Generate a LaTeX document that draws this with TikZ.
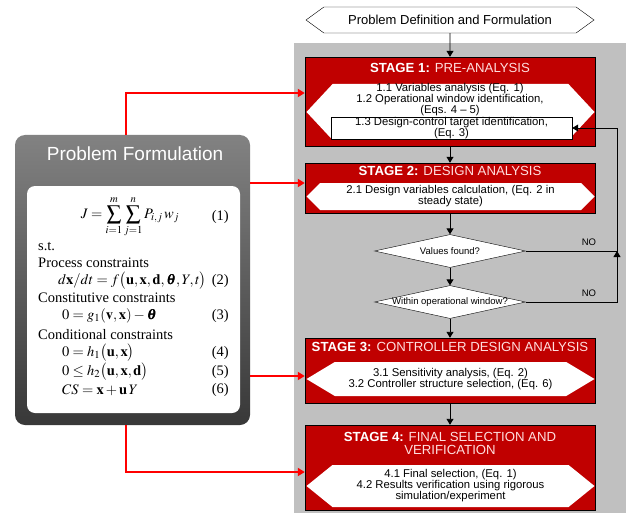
\documentclass[tikz,border=0pt]{standalone}
\usepackage{amsmath}
\usepackage{mathptmx}
\usepackage{bm}
\usepackage[no-math]{fontspec}
\setmainfont{Liberation Sans}
\newfontfamily\eqfont{Liberation Serif}
\usetikzlibrary{positioning,shapes.geometric,shapes.symbols,arrows.meta}

\definecolor{stagered}{RGB}{192,0,0}
\definecolor{panelgray}{RGB}{192,192,192}
\definecolor{pftop}{RGB}{130,130,130}
\definecolor{pfbot}{RGB}{56,56,56}
\definecolor{titlepink}{RGB}{255,222,222}

\tikzset{
  stage/.style={draw=black, fill=stagered, minimum width=290pt, inner sep=0pt},
  stagetitle/.style={text=titlepink, font=\fontsize{13.2}{13}\selectfont, align=center, inner sep=0pt},
  hexa/.style={signal, signal to=west and east, fill=white, minimum width=288pt, inner sep=0pt,
    font=\fontsize{11.3}{11}\selectfont, align=center},
  steptext/.style={font=\fontsize{11.3}{11}\selectfont, align=center, inner sep=0pt},
  decision/.style={diamond, draw, fill=white, aspect=4.6, inner sep=0pt,
    minimum width=151pt, minimum height=33pt, font=\fontsize{9.5}{10}\selectfont},
  flow/.style={line width=0.9pt, -{Triangle[length=6pt,width=7pt]}},
  feed/.style={red, line width=2.5pt, -{Triangle[length=7pt,width=8pt]}},
  eqline/.style={anchor=west, inner sep=0pt, font=\eqfont\fontsize{14.5}{16}\selectfont},
  eqnum/.style={anchor=east, inner sep=0pt, font=\eqfont\fontsize{14.5}{16}\selectfont}
}

\begin{document}
\begin{tikzpicture}[x=1pt,y=-1pt]
\useasboundingbox (0,0) rectangle (628,513);
\fill[panelgray] (294,43) rectangle (626,513);

\node[hexa, draw, minimum height=26pt, signal pointer angle=72, font=\fontsize{13}{13}\selectfont] (pd) at (450,20) {Problem Definition and Formulation};

% stage 1
\node[stage, minimum height=89pt] (s1) at (450,101.5) {};
\node[stagetitle] (t1) at (450,68) {\textcolor{white}{\textbf{STAGE 1:}} PRE-ANALYSIS};
\node[hexa, minimum height=56pt, signal pointer angle=94] (h1) at (450.5,112) {};
\node[steptext] (x1) at (450,100) {1.1 Variables analysis (Eq. 1)\\1.2 Operational window identification,\\(Eqs. 4 -- 5)};
\node[steptext, draw, fill=white, minimum width=241pt, minimum height=20pt] (b13) at (451.5,128) {1.3 Design-control target identification,\\(Eq. 3)};

% stage 2
\node[stage, minimum height=50pt] (s2) at (450,188) {};
\node[stagetitle] (t2) at (450,171) {\textcolor{white}{\textbf{STAGE 2:}} DESIGN ANALYSIS};
\node[hexa, minimum height=27pt, signal pointer angle=90] (h2) at (450.5,196.5) {2.1 Design variables calculation, (Eq. 2 in\\steady state)};

\node[decision] (d1) at (450,251) {Values found?};
\node[decision] (d2) at (450,302) {\makebox[0pt]{Within operational window?}};
\node[font=\fontsize{9.5}{10}\selectfont] (no1) at (589,242) {NO};
\node[font=\fontsize{9.5}{10}\selectfont] (no2) at (589,293) {NO};

% stage 3
\node[stage, minimum height=65pt] (s3) at (450,370.5) {};
\node[stagetitle] (t3) at (450,347) {\textcolor{white}{\textbf{STAGE 3:}} CONTROLLER DESIGN ANALYSIS};
\node[hexa, minimum height=34pt, signal pointer angle=62] (h3) at (450.5,379) {3.1 Sensitivity analysis, (Eq. 2)\\3.2 Controller structure selection, (Eq. 6)};

% stage 4
\node[stage, minimum height=85pt] (s4) at (450,467.5) {};
\node[stagetitle] (t4) at (450,443.5) {\textcolor{white}{\textbf{STAGE 4:}} FINAL SELECTION AND\\VERIFICATION};
\node[hexa, minimum height=42pt, signal pointer angle=78] (h4) at (450.5,486) {4.1 Final selection, (Eq. 1)\\4.2 Results verification using rigorous\\simulation/experiment};

% problem formulation panel
\node[rounded corners=10pt, top color=pftop, bottom color=pfbot, minimum width=235pt, minimum height=290pt] (pf) at (132.5,280) {};
\node[text=white, font=\fontsize{19}{20}\selectfont] (pft) at (135,154) {Problem Formulation};
\node[fill=white, rounded corners=8pt, minimum width=213pt, minimum height=227pt] (eqs) at (133.5,299.5) {};

\node[eqline, anchor=center] (e1) at (130,217) {$\displaystyle J=\sum_{i=1}^{m}\sum_{j=1}^{n}P_{i,j}\,w_j$};
\node[eqline] (st) at (38,247) {s.t.};
\node[eqline] (pc) at (38,263) {Process constraints};
\node[eqline] (e2) at (58,281) {$d\mathbf{x}/dt=f\bigl(\mathbf{u},\mathbf{x},\mathbf{d},\bm{\theta},Y,t\bigr)$};
\node[eqline] (cc) at (38,298) {Constitutive constraints};
\node[eqline] (e3) at (62,316) {$0=g_1(\mathbf{v},\mathbf{x})-\bm{\theta}$};
\node[eqline] (dc) at (38,335) {Conditional constraints};
\node[eqline] (e4) at (62,353) {$0=h_1\bigl(\mathbf{u},\mathbf{x}\bigr)$};
\node[eqline] (e5) at (62,372) {$0\le h_2\bigl(\mathbf{u},\mathbf{x},\mathbf{d}\bigr)$};
\node[eqline] (e6) at (62,390) {$CS=\mathbf{x}+\mathbf{u}\,Y$};
\foreach \n/\y in {1/217,2/281,3/316,4/353,5/372,6/390}
  \node[eqnum] (n\n) at (229,\y) {(\n)};

% connectors
\coordinate (in1) at ([yshift=8.5pt]s1.west);
\coordinate (in2) at ([yshift=5pt]s2.west);
\coordinate (in3) at ([yshift=-5.5pt]s3.west);
\coordinate (in4) at ([yshift=-4.5pt]s4.west);
\draw[feed] ([xshift=-6.5pt]pf.north) |- (in1);
\draw[feed] (in2 -| pf.east) -- (in2);
\draw[feed] (in3 -| pf.east) -- (in3);
\draw[feed] ([xshift=-6.5pt]pf.south) |- (in4);

\draw[flow] (pd) -- (s1);
\draw[flow] (s1) -- (s2);
\draw[flow] (s2) -- (d1);
\draw[flow] (d1) -- (d2);
\draw[flow] (d2) -- (s3);
\draw[flow] (s3) -- (s4);
\coordinate (jn) at (617,251);
\draw[flow] (d2.east) -| (jn);
\draw[flow] (d1.east) -- (jn) |- (b13.east);
\end{tikzpicture}
\end{document}
